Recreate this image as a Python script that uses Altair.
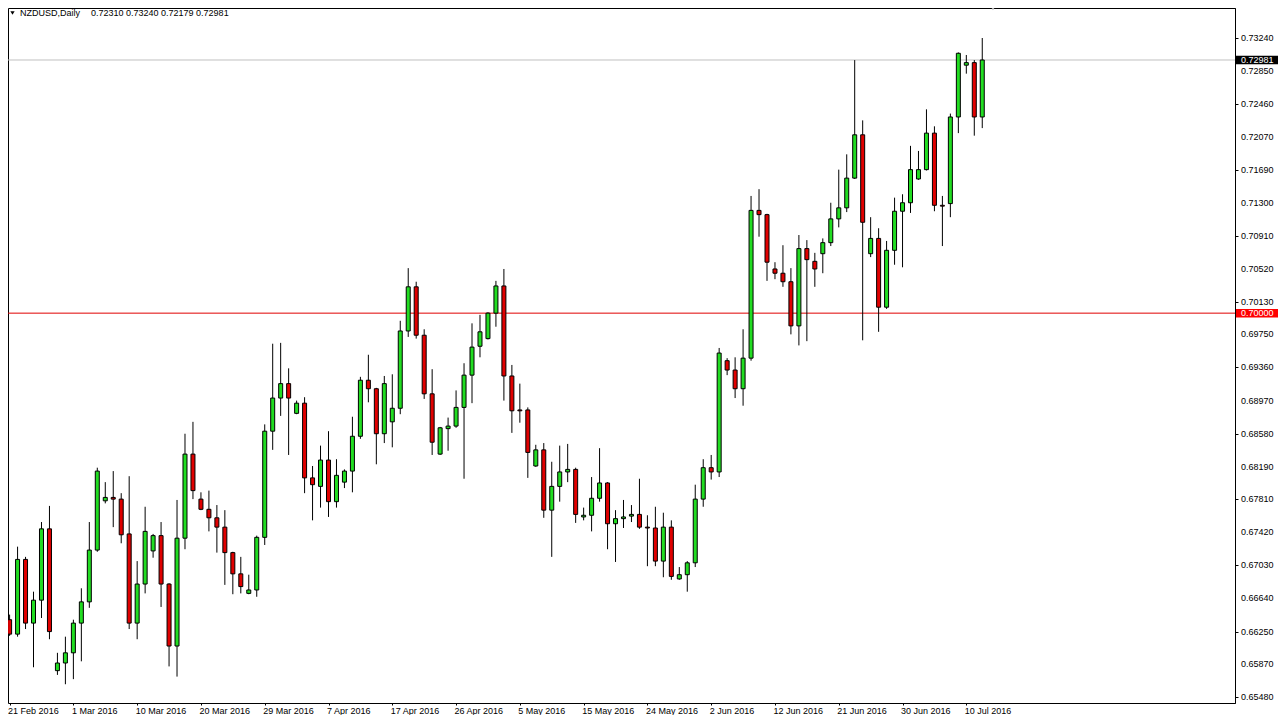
import altair as alt
import pandas as pd

# ---- data (NZDUSD, Daily) ----
opens = [0.6639, 0.6622, 0.6710, 0.6635, 0.6662, 0.6746, 0.6579, 0.6588, 0.6600, 0.6635,
         0.6660, 0.6721, 0.6779, 0.6783, 0.6781, 0.6740, 0.6635, 0.6681, 0.6720, 0.6738,
         0.6681, 0.6608, 0.6735, 0.6834, 0.6781, 0.6769, 0.6759, 0.6748, 0.6718, 0.6693,
         0.6670, 0.6674, 0.6736, 0.6861, 0.6900, 0.6917, 0.6882, 0.6894, 0.6806, 0.6796,
         0.6827, 0.6778, 0.6801, 0.6814, 0.6855, 0.6921, 0.6911, 0.6858, 0.6872, 0.6888,
         0.6979, 0.7031, 0.6974, 0.6905, 0.6834, 0.6864, 0.6867, 0.6889, 0.6927, 0.6961,
         0.6970, 0.7000, 0.7032, 0.6926, 0.6886, 0.6886, 0.6820, 0.6839, 0.6768, 0.6796,
         0.6813, 0.6816, 0.6760, 0.6762, 0.6782, 0.6800, 0.6752, 0.6758, 0.6761, 0.6763,
         0.6748, 0.6747, 0.6708, 0.6748, 0.6687, 0.6692, 0.6706, 0.6781, 0.6818, 0.6813,
         0.6944, 0.6933, 0.6911, 0.6947, 0.7121, 0.7116, 0.7052, 0.7047, 0.7037, 0.6985,
         0.7076, 0.7061, 0.7070, 0.7083, 0.7111, 0.7124, 0.7159, 0.7210, 0.7070, 0.7088,
         0.7007, 0.7074, 0.7120, 0.7130, 0.7158, 0.7169, 0.7212, 0.7127, 0.7129, 0.7231,
         0.7292, 0.7295, 0.72310]
highs = [0.6645, 0.6725, 0.6713, 0.6672, 0.6754, 0.6773, 0.6600, 0.6619, 0.6639, 0.6676,
         0.6754, 0.6818, 0.6801, 0.6814, 0.6788, 0.6808, 0.6708, 0.6772, 0.6740, 0.6754,
         0.6682, 0.6780, 0.6858, 0.6872, 0.6789, 0.6791, 0.6774, 0.6768, 0.6719, 0.6713,
         0.6692, 0.6738, 0.6869, 0.6964, 0.6965, 0.6935, 0.6897, 0.6901, 0.6820, 0.6844,
         0.6861, 0.6828, 0.6816, 0.6878, 0.6925, 0.6951, 0.6912, 0.6926, 0.6928, 0.6991,
         0.7053, 0.7037, 0.6981, 0.6934, 0.6866, 0.6877, 0.6909, 0.6941, 0.6988, 0.6998,
         0.7001, 0.7038, 0.7052, 0.6939, 0.6917, 0.6889, 0.6845, 0.6847, 0.6825, 0.6844,
         0.6846, 0.6818, 0.6771, 0.6807, 0.6841, 0.6801, 0.6768, 0.6780, 0.6774, 0.6805,
         0.6762, 0.6772, 0.6765, 0.6756, 0.6701, 0.6708, 0.6798, 0.6828, 0.6833, 0.6959,
         0.6947, 0.6948, 0.6981, 0.7138, 0.7146, 0.7117, 0.7060, 0.7080, 0.7053, 0.7092,
         0.7086, 0.7071, 0.7088, 0.7130, 0.7169, 0.7187, 0.7298, 0.7227, 0.7113, 0.7100,
         0.7085, 0.7136, 0.7140, 0.7197, 0.7191, 0.7240, 0.7220, 0.7138, 0.7235, 0.7307,
         0.7304, 0.7298, 0.73240]
lows = [0.6620, 0.6619, 0.6628, 0.6583, 0.6641, 0.6616, 0.6574, 0.6563, 0.6569, 0.6590,
        0.6653, 0.6719, 0.6776, 0.6748, 0.6729, 0.6628, 0.6616, 0.6670, 0.6712, 0.6654,
        0.6584, 0.6572, 0.6722, 0.6781, 0.6768, 0.6743, 0.6718, 0.6680, 0.6669, 0.6670,
        0.6669, 0.6666, 0.6727, 0.6839, 0.6879, 0.6833, 0.6881, 0.6788, 0.6756, 0.6771,
        0.6760, 0.6771, 0.6794, 0.6789, 0.6852, 0.6895, 0.6822, 0.6847, 0.6842, 0.6881,
        0.6972, 0.6970, 0.6899, 0.6833, 0.6833, 0.6838, 0.6865, 0.6805, 0.6894, 0.6948,
        0.6969, 0.6984, 0.6897, 0.6859, 0.6871, 0.6806, 0.6819, 0.6759, 0.6713, 0.6778,
        0.6801, 0.6753, 0.6756, 0.6743, 0.6778, 0.6722, 0.6707, 0.6747, 0.6754, 0.6746,
        0.6702, 0.6702, 0.6689, 0.6686, 0.6686, 0.6672, 0.6701, 0.6772, 0.6804, 0.6807,
        0.6927, 0.6900, 0.6891, 0.6944, 0.7090, 0.7038, 0.7040, 0.7031, 0.6975, 0.6962,
        0.6967, 0.7031, 0.7047, 0.7079, 0.7101, 0.7119, 0.7158, 0.6968, 0.7066, 0.6978,
        0.7005, 0.7057, 0.7054, 0.7118, 0.7157, 0.7168, 0.7120, 0.7079, 0.7113, 0.7212,
        0.7282, 0.7209, 0.72179]
closes = [0.6622, 0.6710, 0.6635, 0.6662, 0.6746, 0.6625, 0.6588, 0.6600, 0.6635, 0.6660,
          0.6721, 0.6814, 0.6783, 0.6781, 0.6739, 0.6635, 0.6681, 0.6743, 0.6738, 0.6681,
          0.6608, 0.6735, 0.6834, 0.6791, 0.6769, 0.6759, 0.6748, 0.6718, 0.6693, 0.6678,
          0.6674, 0.6736, 0.6861, 0.6900, 0.6917, 0.6900, 0.6894, 0.6806, 0.6798, 0.6827,
          0.6778, 0.6809, 0.6814, 0.6855, 0.6921, 0.6911, 0.6858, 0.6917, 0.6888, 0.6979,
          0.7031, 0.6974, 0.6905, 0.6848, 0.6865, 0.6867, 0.6889, 0.6927, 0.6960, 0.6978,
          0.7000, 0.7032, 0.6926, 0.6885, 0.6885, 0.6836, 0.6839, 0.6768, 0.6796, 0.6813,
          0.6816, 0.6763, 0.6762, 0.6782, 0.6800, 0.6752, 0.6758, 0.6760, 0.6763, 0.6748,
          0.6747, 0.6708, 0.6748, 0.6690, 0.6692, 0.6706, 0.6781, 0.6818, 0.6813, 0.6953,
          0.6933, 0.6911, 0.6947, 0.7121, 0.7116, 0.7060, 0.7047, 0.7037, 0.6985, 0.7076,
          0.7063, 0.7052, 0.7083, 0.7111, 0.7124, 0.7159, 0.7210, 0.7107, 0.7088, 0.7007,
          0.7074, 0.7120, 0.7130, 0.7169, 0.7169, 0.7212, 0.7127, 0.7126, 0.7231, 0.7306,
          0.7295, 0.7231, 0.72981]

date_labels = ["21 Feb 2016", "1 Mar 2016", "10 Mar 2016", "20 Mar 2016", "29 Mar 2016",
               "7 Apr 2016", "17 Apr 2016", "26 Apr 2016", "5 May 2016", "15 May 2016",
               "24 May 2016", "2 Jun 2016", "12 Jun 2016", "21 Jun 2016", "30 Jun 2016",
               "10 Jul 2016"]
label_step = 8
price_ticks = [0.65480, 0.65870, 0.66250, 0.66640, 0.67030, 0.67420, 0.67810, 0.68190,
               0.68580, 0.68970, 0.69360, 0.69750, 0.70130, 0.70520, 0.70910, 0.71300,
               0.71690, 0.72070, 0.72460, 0.72850, 0.73240]
levels = [0.72981, 0.70000]
level_kind = ["bid", "level"]

FONT = "Liberation Sans"
GREEN = "#22dd22"
RED = "#e00000"

W, H = 1227, 695

df = pd.DataFrame({"i": list(range(len(opens))), "o": opens, "h": highs, "l": lows, "c": closes})
lv = pd.DataFrame({"p": levels, "kind": level_kind})
tk = pd.DataFrame({"p": price_ticks})

x_scale = alt.Scale(domain=[-0.2, 153.7], nice=False, zero=False, padding=0)
y_scale = alt.Scale(domain=[0.654091, 0.735933], nice=False, zero=False, padding=0)

label_js = "[" + ",".join("'" + s + "'" for s in date_labels) + "]"
x_axis = alt.Axis(values=[k * label_step for k in range(len(date_labels))],
                  labelExpr=label_js + "[round(datum.value/" + str(label_step) + ")]",
                  labelAlign="left", labelFlush=False, labelBaseline="top", labelOverlap=False,
                  labelPadding=1, tickSize=2, domain=False, grid=False, title=None,
                  labelFont=FONT, labelFontSize=9, labelColor="black", tickColor="black",
                  labelOffset=-2)
# right price axis: line + ticks from the scale, labels as text marks below
y_axis = alt.Axis(orient="right", values=price_ticks, labels=False, grid=False, title=None,
                  tickColor="black", tickSize=3, domainColor="black")

base = alt.Chart(df)

lines = alt.Chart(lv).mark_rule(strokeWidth=1).encode(
    y=alt.Y("p:Q", scale=y_scale, axis=y_axis),
    color=alt.Color("kind:N", scale=alt.Scale(domain=["bid", "level"], range=["#c0c0c0", RED]), legend=None),
)

wicks = base.mark_rule(color="black", strokeWidth=1).encode(
    x=alt.X("i:Q", scale=x_scale, axis=x_axis),
    y=alt.Y("l:Q", scale=y_scale),
    y2="h:Q",
)

bodies = base.mark_bar(size=4, stroke="black", strokeWidth=1).encode(
    x=alt.X("i:Q", scale=x_scale),
    y=alt.Y("o:Q", scale=y_scale),
    y2="c:Q",
    color=alt.condition("datum.c > datum.o", alt.value(GREEN), alt.value(RED)),
)

tick_labels = alt.Chart(tk).mark_text(align="left", baseline="middle", font=FONT, fontSize=9,
                                      color="black").encode(
    x=alt.value(W + 6),
    y=alt.Y("p:Q", scale=y_scale),
    text=alt.Text("p:Q", format=".5f"),
)

boxes = alt.Chart(lv).transform_calculate(
    top="datum.p + 0.0005", bot="datum.p - 0.0005"
).mark_rect().encode(
    x=alt.value(W + 1), x2=alt.value(W + 43),
    y=alt.Y("top:Q", scale=y_scale), y2="bot:Q",
    color=alt.Color("kind:N", scale=alt.Scale(domain=["bid", "level"], range=["#000000", "#ff0000"]), legend=None),
)
box_text = alt.Chart(lv).mark_text(align="left", baseline="middle", font=FONT, fontSize=9,
                                   color="white").encode(
    x=alt.value(W + 6),
    y=alt.Y("p:Q", scale=y_scale),
    text=alt.Text("p:Q", format=".5f"),
)

title_df = pd.DataFrame({"t": ["NZDUSD,Daily"], "v": ["0.72310 0.73240 0.72179 0.72981"]})
tri = alt.Chart(title_df).mark_point(shape="triangle-down", filled=True, color="black",
                                     size=18, opacity=1).encode(x=alt.value(4.5), y=alt.value(5))
title1 = alt.Chart(title_df).mark_text(align="left", baseline="middle", font=FONT, fontSize=9,
                                       color="black").encode(x=alt.value(12), y=alt.value(5), text="t:N")
title2 = alt.Chart(title_df).mark_text(align="left", baseline="middle", font=FONT, fontSize=9,
                                       color="black").encode(x=alt.value(83), y=alt.value(5), text="v:N")
shift_mark = alt.Chart(title_df).mark_point(shape="triangle-down", filled=True, color="#b0b0b0",
                                            size=30, opacity=1).encode(x=alt.value(985), y=alt.value(0))

chart = alt.layer(lines, wicks, bodies, tick_labels, boxes, box_text, tri, title1, title2,
                  shift_mark).resolve_scale(
    color="independent"
).properties(
    width=W, height=H,
    autosize=alt.AutoSizeParams(type="none"),
    padding={"left": 0, "top": 0, "right": 44, "bottom": 12},
    background="white",
).configure_view(stroke="black", strokeWidth=1)

chart.save("out.html", embed_options={"renderer": "svg", "actions": False})
